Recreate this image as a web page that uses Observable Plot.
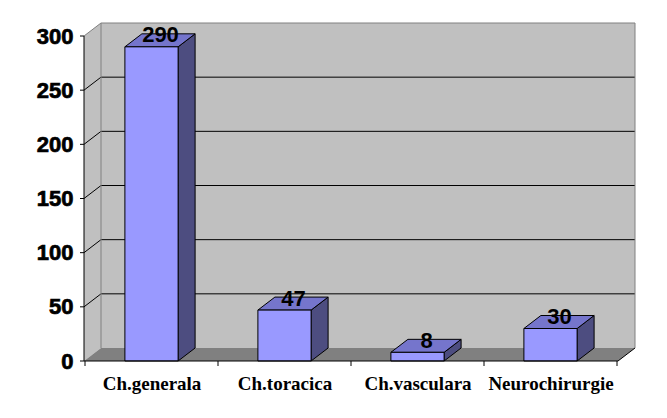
<!DOCTYPE html>
<html>
<head>
<meta charset="utf-8">
<script src="https://cdn.jsdelivr.net/npm/d3@7"></script>
<script src="https://cdn.jsdelivr.net/npm/@observablehq/plot@0.6"></script>
<style>
  html, body { margin: 0; padding: 0; background: #ffffff; }
  #chart svg { display: block; }
  /* heavier tick numerals on the value axis */
  #chart g[aria-label="y-axis tick label"] text { stroke: #000; stroke-width: 0.7px; }
</style>
</head>
<body>
<div id="chart"></div>
<script>
// Interventions per surgical department
const categories = ["Ch.generala", "Ch.toracica", "Ch.vasculara", "Neurochirurgie"];
const values = [290, 47, 8, 30];
const yTicks = [0, 50, 100, 150, 200, 250, 300];

const data = categories.map((c, i) => ({category: c, value: values[i]}));

// 3D depth offset of the walls and columns, in pixels
const DX = 17, DY = 13;
const BAR_FRACTION = 0.4;

const colors = {
  wall: "#c0c0c0",
  floor: "#808080",
  border: "#808080",
  front: "#9999ff",
  top: "#7575cc",
  side: "#4d4d80"
};

// Draws walls, floor, gridlines and the 3D columns using the plot's scales
function scene(index, scales, values_, dims) {
  const {x, y} = scales;
  const g = d3.create("svg:g");
  const x0 = dims.marginLeft, x1 = dims.width - dims.marginRight;
  const yTop = y(yTicks[yTicks.length - 1]), y0 = y(0);
  const poly = (pts) => "M" + pts.map(p => p.join(",")).join("L") + "Z";

  // side wall
  g.append("path")
    .attr("d", poly([[x0, yTop], [x0 + DX, yTop - DY], [x0 + DX, y0 - DY], [x0, y0]]))
    .attr("fill", colors.wall);
  // back wall
  g.append("rect")
    .attr("x", x0 + DX).attr("y", yTop - DY)
    .attr("width", x1 - x0).attr("height", y0 - yTop)
    .attr("fill", colors.wall);
  // floor
  g.append("path")
    .attr("d", poly([[x0, y0], [x1, y0], [x1 + DX, y0 - DY], [x0 + DX, y0 - DY]]))
    .attr("fill", colors.floor);

  // gridlines across side and back walls
  for (const v of yTicks) {
    if (v === 0) continue;
    const yy = y(v);
    const top = v === yTicks[yTicks.length - 1];
    g.append("path")
      .attr("d", `M${x0},${yy}L${x0 + DX},${yy - DY}L${x1 + DX},${yy - DY}`)
      .attr("fill", "none")
      .attr("stroke", top ? colors.border : "#000")
      .attr("stroke-width", 1);
  }
  // wall borders
  g.append("path")
    .attr("d", `M${x0 + DX},${y0 - DY}L${x0 + DX},${yTop - DY}`)
    .attr("stroke", colors.border).attr("fill", "none");
  g.append("path")
    .attr("d", `M${x1 + DX},${yTop - DY}L${x1 + DX},${y0 - DY}`)
    .attr("stroke", colors.border).attr("fill", "none");
  // floor front-right edge
  g.append("path")
    .attr("d", `M${x1},${y0}L${x1 + DX},${y0 - DY}`)
    .attr("stroke", "#000").attr("fill", "none");

  // columns
  const bw = x.bandwidth();
  const w = bw * BAR_FRACTION;
  for (const d of data) {
    const cx = x(d.category) + bw / 2;
    const l = cx - w / 2, r = cx + w / 2;
    const t = y(d.value);
    const bar = g.append("g").attr("stroke", "#000").attr("stroke-width", 1).attr("stroke-linejoin", "round");
    bar.append("path")
      .attr("d", poly([[r, t], [r + DX, t - DY], [r + DX, y0 - DY], [r, y0]]))
      .attr("fill", colors.side);
    bar.append("path")
      .attr("d", poly([[l, t], [l + DX, t - DY], [r + DX, t - DY], [r, t]]))
      .attr("fill", colors.top);
    bar.append("rect")
      .attr("x", l).attr("y", t).attr("width", w).attr("height", y0 - t)
      .attr("fill", colors.front);
  }

  // axis lines and category boundary ticks
  const ax = g.append("g").attr("stroke", "#000").attr("fill", "none");
  ax.append("path").attr("d", `M${x0},${yTop}L${x0},${y0}L${x1},${y0}`);
  const bounds = categories.map(c => x(c)).concat([x(categories[categories.length - 1]) + bw]);
  for (const b of bounds) ax.append("path").attr("d", `M${b},${y0}L${b},${y0 + 5}`);
  for (const v of yTicks) ax.append("path").attr("d", `M${x0 - 4},${y(v)}L${x0},${y(v)}`);
  return g.node();
}

const chart = Plot.plot({
  width: 667,
  height: 418,
  marginLeft: 84,
  marginRight: 49,
  marginTop: 36,
  marginBottom: 57,
  x: {type: "band", domain: categories, padding: 0},
  y: {domain: [0, 300]},
  style: {background: "#ffffff", overflow: "visible"},
  marks: [
    scene,
    Plot.axisY({
      ticks: yTicks,
      tickSize: 0,
      tickPadding: 11,
      fontSize: 22,
      fontWeight: "bold",
      fontFamily: "Liberation Sans, Arial, sans-serif",
      fill: "#000",
      label: null
    }),
    Plot.axisX({
      tickSize: 0,
      tickPadding: 15,
      fontSize: 19,
      fontWeight: "bold",
      fontFamily: "Liberation Serif, Times New Roman, serif",
      fill: "#000",
      label: null
    }),
    Plot.text(data, {
      x: "category",
      y: "value",
      text: d => String(d.value),
      dx: DX / 2,
      dy: -12,
      fontSize: 22,
      fontWeight: "bold",
      fontFamily: "Liberation Sans, Arial, sans-serif",
      fill: "#000"
    })
  ]
});

document.getElementById("chart").appendChild(chart);
</script>
</body>
</html>
